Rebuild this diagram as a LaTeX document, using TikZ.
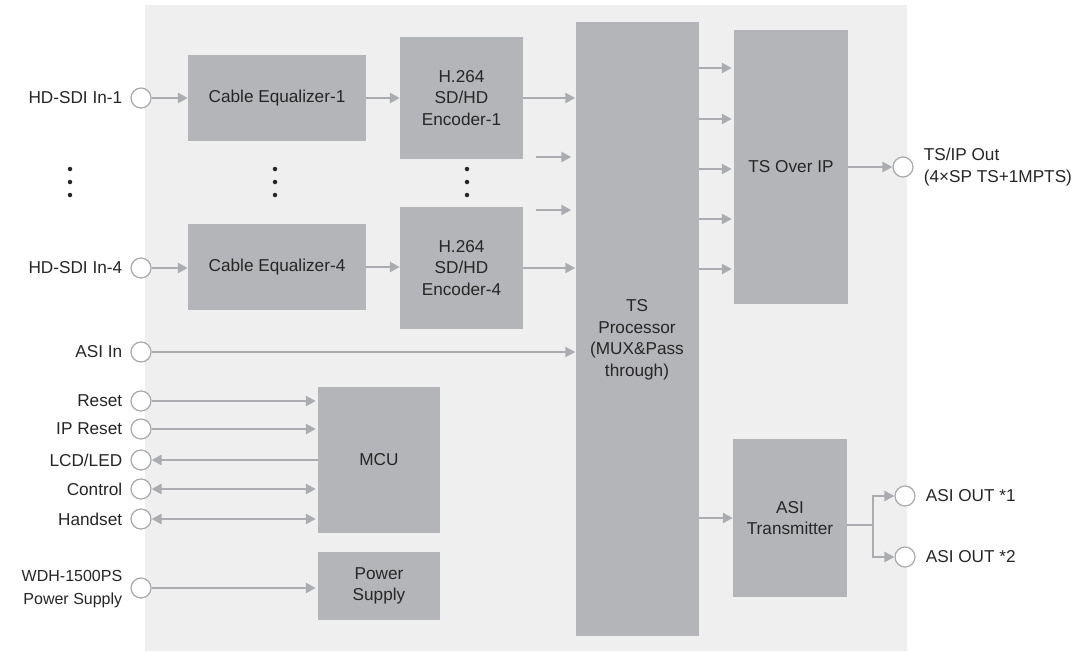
\documentclass[tikz,border=0pt]{standalone}
\usepackage{fontspec}
\setmainfont{Liberation Sans}
\usetikzlibrary{arrows.meta,positioning,calc}
\definecolor{panel}{HTML}{EFEFEF}
\definecolor{boxgray}{HTML}{B4B5B8}
\definecolor{arrgray}{HTML}{ABACAF}
\definecolor{circgray}{HTML}{A8A9AC}
\definecolor{txt}{HTML}{262626}
\begin{document}
\begin{tikzpicture}[x=1pt,y=-1pt,
  font=\fontsize{17.2}{21.5}\selectfont, text=txt,
  blk/.style={fill=boxgray, inner sep=0pt, align=center, text=txt},
  port/.style={circle, draw=circgray, line width=1.2pt, fill=white, minimum size=20pt, inner sep=0pt},
  arr/.style={draw=arrgray, line width=2.6pt, -{Triangle[length=10pt,width=10pt]}},
  barr/.style={draw=arrgray, line width=2.6pt, {Triangle[length=10pt,width=10pt]}-{Triangle[length=10pt,width=10pt]}},
  larr/.style={draw=arrgray, line width=2.6pt, {Triangle[length=10pt,width=10pt]}-},
  plain/.style={draw=arrgray, line width=2.6pt},
  lbl/.style={anchor=east, align=right, inner sep=0pt},
  rlbl/.style={anchor=west, align=left, inner sep=0pt},
  dot/.style={circle, fill=txt, minimum size=4.5pt, inner sep=0pt}
]
\useasboundingbox (0,0) rectangle (1086,651);
\fill[white] (0,0) rectangle (1086,651);
\fill[panel] (145,5) rectangle (907,651);

% blocks
\node[blk, minimum width=178pt, minimum height=86pt] (ce1) at (277,98) {Cable Equalizer-1};
\node[blk, minimum width=123pt, minimum height=122pt] (enc1) at (461.5,98) {H.264\\SD/HD\\Encoder-1};
\node[blk, minimum width=178pt, minimum height=86pt] (ce4) at (277,267) {Cable Equalizer-4};
\node[blk, minimum width=123pt, minimum height=122pt] (enc4) at (461.5,268) {H.264\\SD/HD\\Encoder-4};
\node[blk, minimum width=123pt, minimum height=614pt] (tsp) at (637,329) {};
\node[align=center, text=txt] (tsptxt) at (637,340) {TS\\Processor\\(MUX\&Pass\\through)};
\node[blk, minimum width=114pt, minimum height=274pt] (tsoip) at (791,167) {TS Over IP};
\node[blk, minimum width=122pt, minimum height=146pt] (mcu) at (379,460) {MCU};
\node[blk, minimum width=122pt, minimum height=68pt] (ps) at (379,586) {Power\\Supply};
\node[blk, minimum width=114pt, minimum height=158pt] (asit) at (790,518) {ASI\\Transmitter};

% input ports
\node[port] (p1) at (141,98) {};
\node[port] (p4) at (141,268) {};
\node[port] (pasi) at (141,352) {};
\node[port] (preset) at (141,401) {};
\node[port] (pipr) at (141,429) {};
\node[port] (plcd) at (141,460) {};
\node[port] (pctl) at (141,489) {};
\node[port] (phand) at (141,519) {};
\node[port] (ppow) at (141,588) {};

\node[lbl] (l1) at ($(p1.west)+(-8,0)$) {HD-SDI In-1};
\node[lbl] (l4) at ($(p4.west)+(-8,0)$) {HD-SDI In-4};
\node[lbl] (lasi) at ($(pasi.west)+(-8,0)$) {ASI In};
\node[lbl] (lreset) at ($(preset.west)+(-8,0)$) {Reset};
\node[lbl] (lipr) at ($(pipr.west)+(-8,0)$) {IP Reset};
\node[lbl] (llcd) at ($(plcd.west)+(-8,0)$) {LCD/LED};
\node[lbl] (lctl) at ($(pctl.west)+(-8,0)$) {Control};
\node[lbl] (lhand) at ($(phand.west)+(-8,0)$) {Handset};
\node[lbl, font=\fontsize{16}{23}\selectfont] (lpow) at ($(ppow.west)+(-8,1)$) {WDH-1500PS\\Power Supply};

% output ports
\node[port] (pts) at (903,167) {};
\node[port] (pa1) at (905,496) {};
\node[port] (pa2) at (905,557) {};
\node[rlbl] (lts) at ($(pts.east)+(10,0)$) {TS/IP Out\\(4×SP TS+1MPTS)};
\node[rlbl] (la1) at ($(pa1.east)+(10,0)$) {ASI OUT *1};
\node[rlbl] (la2) at ($(pa2.east)+(10,0)$) {ASI OUT *2};

% dots
\foreach \x/\n in {70/a,275/b,467/c}{
  \node[dot] (d\n1) at (\x,169) {};
  \node[dot] (d\n2) at (\x,182) {};
  \node[dot] (d\n3) at (\x,195) {};
}

% connectors
\draw[arr] (p1) -- (ce1.west);
\draw[arr] (ce1.east) -- (enc1.west |- ce1.east);
\draw[arr] (enc1.east) -- (tsp.west |- enc1.east);
\draw[arr] (p4) -- (ce4.west |- p4);
\draw[arr] (ce4.east) -- (enc4.west |- ce4.east);
\draw[arr] (enc4.east) -- (tsp.west |- enc4.east);
\coordinate (f1) at (536,157);
\coordinate (f2) at (536,210);
\draw[arr] (f1) -- ($(tsp.west |- f1)+(-4,0)$);
\draw[arr] (f2) -- ($(tsp.west |- f2)+(-4,0)$);
\draw[arr] (pasi) -- (tsp.west |- pasi);
\foreach \y in {68,119,169,219,269}{
  \draw[arr] (tsp.east |- {0,\y}) -- ($(tsoip.west |- {0,\y})+(-2,0)$);
}
\draw[arr] (tsoip.east |- pts) -- (pts);
\draw[arr] (tsp.east |- {0,518}) -- (asit.west |- {0,518});
\coordinate (br) at (873,525);
\draw[plain] (asit.east |- br) -- (br);
\draw[arr] (br) |- (pa1);
\draw[arr] (br) |- (pa2);

\draw[arr] (preset) -- ($(mcu.west |- preset)+(-2,0)$);
\draw[arr] (pipr) -- ($(mcu.west |- pipr)+(-2,0)$);
\draw[larr] (plcd) -- (mcu.west |- plcd);
\draw[barr] (pctl) -- ($(mcu.west |- pctl)+(-2,0)$);
\draw[barr] (phand) -- ($(mcu.west |- phand)+(-2,0)$);
\draw[arr] (ppow) -- ($(ps.west |- ppow)+(-2,0)$);
\end{tikzpicture}
\end{document}
